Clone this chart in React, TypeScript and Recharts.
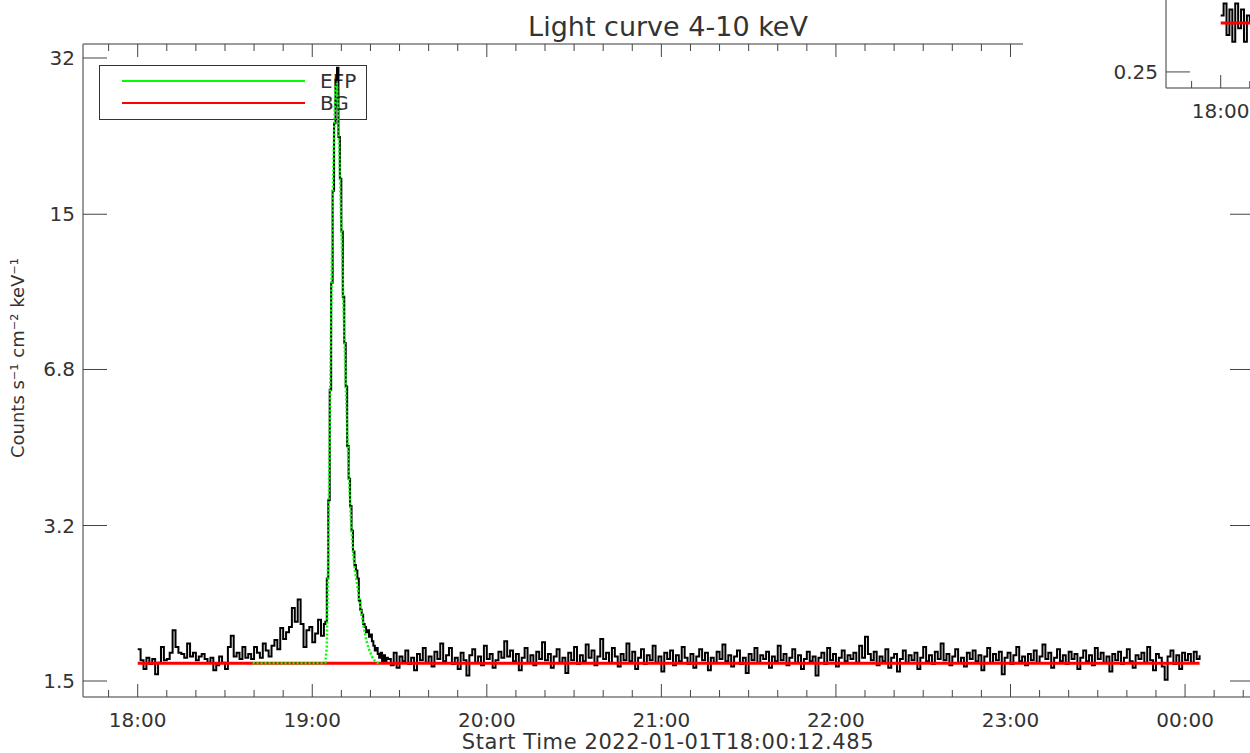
import React from "react";
import { LineChart, Line, XAxis, YAxis } from "recharts";

// time axis in minutes after 18:00
const X_MIN = -18.8;
const X_MAX = 383.7;
const X_TICKS = [
  -10, 0, 10, 20, 30, 40, 50, 60, 70, 80, 90, 100, 110, 120, 130, 140, 150, 160, 170, 180,
  190, 200, 210, 220, 230, 240, 250, 260, 270, 280, 290, 300, 310, 320, 330, 340, 350, 360, 370, 380,
];
const X_MAJOR = [0, 60, 120, 180, 240, 300, 360];
const X_LABELS = ["18:00", "19:00", "20:00", "21:00", "22:00", "23:00", "00:00"];

const Y_MIN = 1.368;
const Y_MAX = 33.96;
const Y_TICKS = [1.48, 3.18, 6.85, 14.7, 31.7];
const Y_LABELS = ["1.5", "3.2", "6.8", "15", "32"];

// one value per minute, 18:00 - 19:03
const PRE_FLARE = [
  1.73, 1.64, 1.57, 1.66, 1.61, 1.65, 1.53, 1.62, 1.75, 1.64,
  1.65, 1.70, 1.90, 1.75, 1.70, 1.69, 1.66, 1.78, 1.67, 1.70,
  1.64, 1.67, 1.69, 1.65, 1.62, 1.66, 1.56, 1.60, 1.67, 1.62,
  1.57, 1.75, 1.85, 1.67, 1.70, 1.65, 1.75, 1.66, 1.69, 1.65,
  1.75, 1.70, 1.66, 1.78, 1.72, 1.67, 1.76, 1.81, 1.73, 1.92,
  1.82, 1.88, 1.93, 2.12, 1.98, 2.21, 1.96, 1.75, 1.90, 1.93,
  1.79, 1.87, 2.00, 1.85,
];

// flare, half-minute samples
const FLARE_TIME = [
  64, 64.5, 65, 65.5, 66, 66.5, 67, 67.5, 68, 68.5, 69, 69.5, 70, 70.5, 71, 71.5,
  72, 72.5, 73, 73.5, 74, 74.5, 75, 75.5, 76, 76.5, 77, 77.5, 78, 78.5, 79, 79.5,
  80, 80.5, 81, 81.5, 82, 82.5, 83, 83.5, 84, 84.5, 85, 85.5,
];
const FLARE_COUNTS = [
  1.96, 1.98, 2.45, 3.6, 6.2, 10.5, 16.5, 23.0, 28.5, 30.2, 21.5, 17.5, 13.5, 9.8, 7.8, 6.3,
  4.7, 4.0, 3.5, 3.1, 2.8, 2.62, 2.55, 2.45, 2.2, 2.1, 2.05, 1.96, 1.93, 1.88, 1.9, 1.84,
  1.86, 1.8, 1.76, 1.72, 1.74, 1.69, 1.66, 1.7, 1.63, 1.68, 1.62, 1.66,
];

// one value per minute from minute 86 to 365
const POST_FLARE = [
  1.65, 1.60, 1.70, 1.58, 1.67, 1.63, 1.72, 1.61, 1.66, 1.56, 1.69, 1.64, 1.74, 1.62, 1.67, 1.59, 1.71, 1.65, 1.78, 1.63,
  1.68, 1.74, 1.61, 1.66, 1.57, 1.70, 1.64, 1.52, 1.68, 1.73, 1.62, 1.67, 1.60, 1.76, 1.65, 1.69, 1.58, 1.64, 1.71, 1.66,
  1.80, 1.67, 1.72, 1.63, 1.69, 1.56, 1.66, 1.74, 1.62, 1.68, 1.60, 1.71, 1.65, 1.79, 1.64, 1.69, 1.58, 1.67, 1.73, 1.62,
  1.66, 1.54, 1.70, 1.64, 1.75, 1.61, 1.68, 1.63, 1.77, 1.66, 1.72, 1.60, 1.67, 1.82, 1.65, 1.70, 1.62, 1.74, 1.67, 1.59,
  1.69, 1.64, 1.78, 1.63, 1.71, 1.57, 1.66, 1.73, 1.61, 1.68, 1.64, 1.76, 1.62, 1.67, 1.55, 1.70, 1.65, 1.72, 1.60, 1.68,
  1.63, 1.75, 1.66, 1.61, 1.69, 1.58, 1.67, 1.73, 1.64, 1.70, 1.56, 1.66, 1.62, 1.71, 1.65, 1.77, 1.63, 1.68, 1.59, 1.67,
  1.72, 1.61, 1.66, 1.54, 1.69, 1.64, 1.74, 1.62, 1.68, 1.65, 1.71, 1.58, 1.67, 1.63, 1.76, 1.64, 1.69, 1.60, 1.66, 1.73,
  1.62, 1.68, 1.57, 1.65, 1.71, 1.63, 1.67, 1.52, 1.66, 1.70, 1.61, 1.74, 1.64, 1.69, 1.59, 1.66, 1.72, 1.63, 1.68, 1.65,
  1.70, 1.62, 1.76, 1.66, 1.84, 1.69, 1.64, 1.71, 1.60, 1.67, 1.63, 1.73, 1.58, 1.66, 1.69, 1.55, 1.65, 1.72, 1.62, 1.68,
  1.64, 1.70, 1.57, 1.66, 1.75, 1.63, 1.68, 1.61, 1.71, 1.65, 1.78, 1.64, 1.69, 1.60, 1.67, 1.73, 1.62, 1.66, 1.59, 1.70,
  1.65, 1.72, 1.63, 1.68, 1.56, 1.67, 1.74, 1.62, 1.69, 1.64, 1.71, 1.53, 1.66, 1.70, 1.61, 1.68, 1.75, 1.63, 1.67, 1.60,
  1.69, 1.64, 1.72, 1.62, 1.67, 1.77, 1.65, 1.70, 1.58, 1.66, 1.73, 1.63, 1.68, 1.61, 1.71, 1.65, 1.69, 1.57, 1.66, 1.72,
  1.63, 1.68, 1.60, 1.74, 1.65, 1.70, 1.62, 1.67, 1.55, 1.69, 1.64, 1.71, 1.61, 1.66, 1.73, 1.63, 1.58, 1.68, 1.65, 1.70,
  1.62, 1.75, 1.64, 1.56, 1.69, 1.66, 1.59, 1.49, 1.67, 1.72, 1.61, 1.68, 1.57, 1.70, 1.64, 1.69, 1.62, 1.71, 1.65, 1.68,
];

const EFP_TIME = [
  39.5, 64, 64.5, 65, 65.5, 66, 66.5, 67, 67.5, 68, 68.5, 69, 69.5, 70, 70.5, 71, 71.5, 72, 72.5, 73,
  73.5, 74, 74.5, 75, 75.5, 76, 76.5, 77, 77.5, 78, 78.5, 79, 79.5, 80, 80.5, 81, 81.5, 82, 82.5, 83,
];
const EFP_COUNTS = [
  1.615, 1.615, 1.62, 1.75, 2.9, 5.0, 9.0, 15.0, 22.0, 27.5, 28.0, 23.0, 18.0, 13.8, 10.6, 8.2, 6.4, 5.1, 4.2, 3.55,
  3.1, 2.8, 2.6, 2.47, 2.36, 2.25, 2.14, 2.05, 1.96, 1.88, 1.82, 1.77, 1.73, 1.70, 1.67, 1.65, 1.635, 1.625, 1.618, 1.615,
];

const BG_TIME = [0, 365];
const BG_LEVEL = [1.615, 1.615];

// next panel, only its lower-left corner shows at the top right
const INSET_Y_MIN = 0.231;
const INSET_Y_MAX = 5.74;
const INSET_Y_TICKS = [0.25, 0.537, 1.157, 2.48, 5.36];
const INSET_Y_LABELS = ["0.25", "", "", "", ""];
const INSET_X_LABELS = ["18:00", "", "", "", "", "", ""];
const INSET_COUNTS = [0.33, 0.35, 0.30, 0.34, 0.29, 0.35, 0.31, 0.34, 0.29, 0.33, 0.32, 0.30, 0.34];
const INSET_BG = [0.318, 0.318];

const FONT = "DejaVu Sans";
const TXT = "#333";
const AXIS = "#7a7a7a";
const TICK = "#444";

const mainCurve = [
  ...PRE_FLARE.map((v, i) => ({ t: i, v })),
  ...FLARE_TIME.map((t, i) => ({ t, v: FLARE_COUNTS[i] })),
  ...POST_FLARE.map((v, i) => ({ t: 86 + i, v })),
];
const efpCurve = EFP_TIME.map((t, i) => ({ t, v: EFP_COUNTS[i] }));
const bgCurve = BG_TIME.map((t, i) => ({ t, v: BG_LEVEL[i] }));
const insetCurve = INSET_COUNTS.map((v, i) => ({ t: i, v }));
const insetBg = BG_TIME.map((t, i) => ({ t, v: INSET_BG[i] }));

function Panel({ curve, bg, efp, yMin, yMax, yTicks, yLabels, xLabels }: any) {
  const bottomTick = ({ x, y, payload }: any) => {
    const idx = X_MAJOR.indexOf(payload.value);
    const label = idx >= 0 ? xLabels[idx] : "";
    return (
      <g>
        <line x1={x} y1={y} x2={x} y2={y - (idx >= 0 ? 13 : 7)} stroke={TICK} strokeWidth={1} />
        {label && (
          <text x={x} y={y + 23} textAnchor="middle" dominantBaseline="central" fontFamily={FONT} fontSize={20} fill={TXT}>
            {label}
          </text>
        )}
      </g>
    );
  };
  const topTick = ({ x, y, payload }: any) => {
    const major = X_MAJOR.indexOf(payload.value) >= 0;
    return <line x1={x} y1={y} x2={x} y2={y + (major ? 13 : 7)} stroke={TICK} strokeWidth={1} />;
  };
  const leftTick = ({ x, y, payload }: any) => {
    const label = yLabels[yTicks.indexOf(payload.value)];
    return (
      <g>
        <line x1={x} y1={y} x2={x + 24} y2={y} stroke={TICK} strokeWidth={1} />
        {label && (
          <text x={x - 8} y={y} textAnchor="end" dominantBaseline="central" fontFamily={FONT} fontSize={20} fill={TXT}>
            {label}
          </text>
        )}
      </g>
    );
  };
  const rightTick = ({ x, y }: any) => <line x1={x} y1={y} x2={x - 24} y2={y} stroke={TICK} strokeWidth={1} />;

  const axisLine = { stroke: AXIS, strokeWidth: 1.5 };
  const common = { tickLine: false, tickSize: 0, tickMargin: 0, interval: 0 as const, allowDataOverflow: true, axisLine };

  return (
    <LineChart width={1262} height={753} margin={{ top: 0, right: 0, bottom: 0, left: 0 }}>
      <XAxis xAxisId="bottom" orientation="bottom" type="number" dataKey="t" domain={[X_MIN, X_MAX]} ticks={X_TICKS} height={56} tick={bottomTick} {...common} />
      <XAxis xAxisId="top" orientation="top" type="number" dataKey="t" domain={[X_MIN, X_MAX]} ticks={X_TICKS} height={44} tick={topTick} {...common} />
      <YAxis yAxisId="left" orientation="left" type="number" scale="log" domain={[yMin, yMax]} ticks={yTicks} width={83} tick={leftTick} {...common} />
      <YAxis yAxisId="right" orientation="right" type="number" scale="log" domain={[yMin, yMax]} ticks={yTicks} width={8} tick={rightTick} {...common} />
      <Line xAxisId="bottom" yAxisId="left" data={curve} dataKey="v" type="stepAfter" stroke="#000" strokeWidth={2} dot={false} activeDot={false} isAnimationActive={false} />
      <Line xAxisId="bottom" yAxisId="left" data={bg} dataKey="v" type="linear" stroke="#ff0000" strokeWidth={3} dot={false} activeDot={false} isAnimationActive={false} />
      {efp && (
        <Line xAxisId="bottom" yAxisId="left" data={efp} dataKey="v" type="linear" stroke="#00ff00" strokeWidth={2.5} strokeDasharray="2 2" dot={false} activeDot={false} isAnimationActive={false} />
      )}
    </LineChart>
  );
}

export default function App() {
  return (
    <div style={{ position: "fixed", left: 0, top: 0, width: 1250, height: 753, overflow: "hidden", background: "#fff" }}>
      <svg width={1250} height={753} style={{ position: "absolute", left: 0, top: 0 }}>
        <text x={668} y={26} textAnchor="middle" dominantBaseline="central" fontFamily={FONT} fontSize={27} fill={TXT}>
          Light curve 4-10 keV
        </text>
        <text x={668} y={742} textAnchor="middle" dominantBaseline="central" fontFamily={FONT} fontSize={21} letterSpacing={0.6} fill={TXT}>
          Start Time 2022-01-01T18:00:12.485
        </text>
        <text x={17} y={358} textAnchor="middle" dominantBaseline="central" fontFamily={FONT} fontSize={18} fill={TXT} transform="rotate(-90 17 358)">
          Counts s⁻¹ cm⁻² keV⁻¹
        </text>
        <rect x={99.5} y={65.5} width={267} height={54} fill="none" stroke="#333" strokeWidth={1} />
        <line x1={122} y1={81} x2={305} y2={81} stroke="#00ff00" strokeWidth={2} />
        <line x1={122} y1={103} x2={305} y2={103} stroke="#ff0000" strokeWidth={2} />
        <text x={320} y={81} dominantBaseline="central" fontFamily={FONT} fontSize={20} fill={TXT}>EFP</text>
        <text x={320} y={103} dominantBaseline="central" fontFamily={FONT} fontSize={20} fill={TXT}>BG</text>
      </svg>
      <div style={{ position: "absolute", left: 0, top: 0 }}>
        <Panel curve={mainCurve} bg={bgCurve} efp={efpCurve} yMin={Y_MIN} yMax={Y_MAX} yTicks={Y_TICKS} yLabels={Y_LABELS} xLabels={X_LABELS} />
      </div>
      <div style={{ position: "absolute", left: 1023, top: 0, width: 227, height: 130, background: "#fff" }} />
      <div style={{ position: "absolute", left: 1083, top: -609 }}>
        <Panel curve={insetCurve} bg={insetBg} yMin={INSET_Y_MIN} yMax={INSET_Y_MAX} yTicks={INSET_Y_TICKS} yLabels={INSET_Y_LABELS} xLabels={INSET_X_LABELS} />
      </div>
    </div>
  );
}
